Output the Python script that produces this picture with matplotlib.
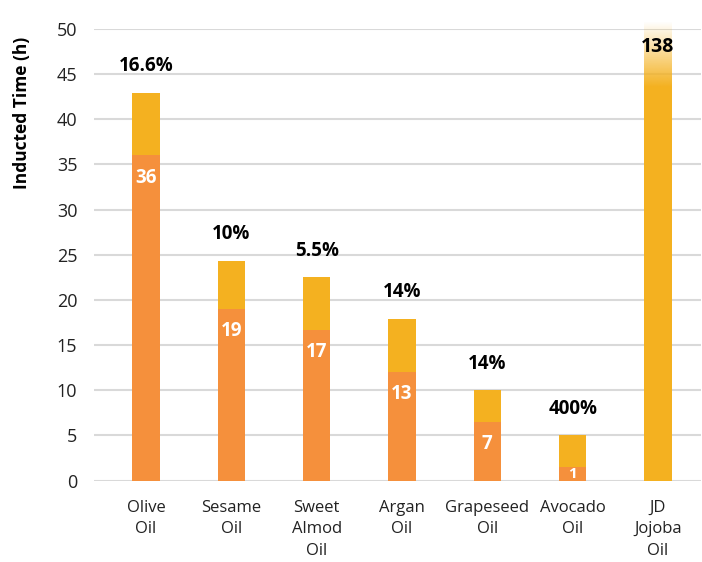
import matplotlib
matplotlib.use("Agg")
import matplotlib.pyplot as plt
import numpy as np
from matplotlib.colors import to_rgb

plt.rcParams['font.family'] = ['Open Sans', 'DejaVu Sans']

categories = ["Olive\nOil", "Sesame\nOil", "Sweet\nAlmod\nOil", "Argan\nOil",
              "Grapeseed\nOil", "Avocado\nOil", "JD\nJojoba\nOil"]
base_time = [36.0, 19.0, 16.7, 12.0, 6.5, 1.5]          # orange part
total_time = [42.9, 24.3, 22.5, 17.9, 10.0, 5.0]        # top of yellow part
base_labels = ["36", "19", "17", "13", "7", "1"]
pct_labels = ["16.6%", "10%", "5.5%", "14%", "14%", "400%"]
jojoba_solid = 43.6        # solid yellow part of the off-scale jojoba bar
jojoba_fade_top = 50.8     # where the faded top ends
jojoba_label = "138"
yticks = [0, 5, 10, 15, 20, 25, 30, 35, 40, 45, 50]

ORANGE = "#F5903C"
YELLOW = "#F4B120"
GRID = "#D9D9D9"

fig = plt.figure(figsize=(7.02, 5.62), dpi=100)
ax = fig.add_axes([94/702, (562-480.5)/562, (701-94)/702, (480.5-29)/562])

x = np.arange(len(categories))
w = 0.32
n = len(base_time)

ax.bar(x[:n], base_time, width=w, color=ORANGE, zorder=3)
ax.bar(x[:n], np.array(total_time) - np.array(base_time), bottom=base_time,
       width=w, color=YELLOW, zorder=3)

# Jojoba bar (off scale): solid part plus faded top
xj = x[n]
ax.bar([xj], [jojoba_solid], width=w, color=YELLOW, zorder=3)
rgb = to_rgb(YELLOW)
grad = np.zeros((100, 1, 4))
grad[..., 0], grad[..., 1], grad[..., 2] = rgb
grad[:, 0, 3] = np.linspace(1, 0, 100)
ax.imshow(grad, extent=(xj - w/2, xj + w/2, jojoba_solid, jojoba_fade_top),
          origin='lower', aspect='auto', zorder=3, clip_on=False,
          interpolation='bilinear')
ax.text(xj, 48, jojoba_label, ha='center', va='center', fontsize=14,
        fontweight='bold', color='black', zorder=5)

for i in range(n):
    ax.annotate(pct_labels[i], (x[i], total_time[i]), xytext=(0, 12),
                textcoords='offset points', ha='center', va='bottom',
                fontsize=13.5, fontweight='bold', color='black')
    if base_time[i] > 3:
        ax.annotate(base_labels[i], (x[i], base_time[i]), xytext=(0, -16),
                    textcoords='offset points', ha='center', va='center',
                    fontsize=13.5, fontweight='bold', color='white', zorder=5)
    else:
        ax.text(x[i], base_time[i] / 2, base_labels[i], ha='center',
                va='center', fontsize=11, fontweight='bold', color='white',
                zorder=5)

ax.set_ylim(0, 50)
ax.set_xlim(-52/85.33, 6 + 43/85.33)
ax.set_yticks(yticks)
ax.set_yticklabels([str(t) for t in yticks], fontsize=13)
ax.set_xticks(x)
ax.set_xticklabels(categories, fontsize=12, linespacing=1.45)
ax.tick_params(axis='y', length=0, pad=12, colors='#222222')
ax.tick_params(axis='x', length=0, pad=14, colors='#222222')
ax.grid(axis='y', color=GRID, linewidth=1.5, zorder=0)
for s in ax.spines.values():
    s.set_visible(False)
ax.set_facecolor('white')

fig.text(22/702, 1 - 113/562, "Inducted Time (h)", rotation=90, ha='center',
         va='center', fontsize=12.5, fontweight='bold', color='black')

fig.savefig("out.png", dpi=100)
